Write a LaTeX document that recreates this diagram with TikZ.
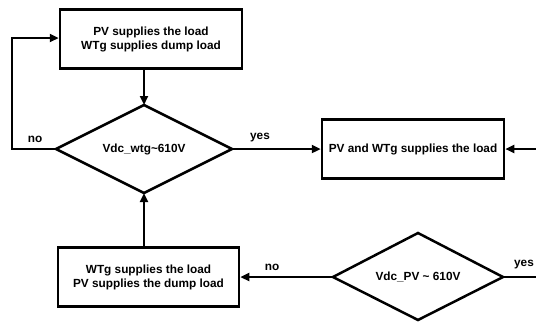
\documentclass[tikz,border=0pt]{standalone}
\usepackage{fontspec}
\setmainfont{Liberation Sans}
\usetikzlibrary{shapes.geometric,arrows.meta}
\begin{document}
\begin{tikzpicture}[x=1pt,y=-1pt,
  box/.style={draw,line width=2.5pt,minimum width=#1,minimum height=59pt,align=center,font=\bfseries\fontsize{11.8}{14}\selectfont,inner sep=0pt},
  conn/.style={line width=2.5pt,-{Triangle[length=9pt,width=8pt]}},
  lab/.style={font=\bfseries\fontsize{11.8}{14}\selectfont,inner sep=0pt}]
\useasboundingbox (0,0) rectangle (536,322);
\node[box=182pt] (b1) at (151,39) {PV supplies the load\\WTg supplies dump load};
\node[box=182pt] (b2) at (413,149) {PV and WTg supplies the load};
\node[box=181pt] (b3) at (148.5,277) {WTg supplies the load\\PV supplies the dump load};
\path[draw,line width=2.5pt,line join=miter] (144,105) coordinate (d1t) -- (232,149) coordinate (d1r) -- (144,193) coordinate (d1b) -- (56,149) coordinate (d1l) -- cycle;
\node[lab] (d1) at (144,149) {Vdc\_wtg\textasciitilde610V};
\path[draw,line width=2.5pt,line join=miter] (418,233) coordinate (d2t) -- (503,277) coordinate (d2r) -- (418,320) coordinate (d2b) -- (333,277) coordinate (d2l) -- cycle;
\node[lab] (d2) at (418,277) {Vdc\_PV \textasciitilde{} 610V};
\draw[conn] (b1.south -| d1t) -- (d1t);
\draw[conn] (b3.north -| d1b) -- (d1b);
\coordinate (c1) at (12,149);
\coordinate (c2) at (12,38);
\draw[conn,line join=miter] (d1l) -- (c1) -- (c2) -- (b1.west |- c2);
\draw[conn] (d1r) -- (b2.west);
\draw[conn] (d2l) -- (b3.east);
\coordinate (c3) at (545,277);
\coordinate (c4) at (545,149);
\draw[conn,line join=miter] (d2r) -- (c3) -- (c4) -- (b2.east);
\node[lab] (n1) at (35,139) {no};
\node[lab] (y1) at (260,138) {yes};
\node[lab] (n2) at (272,267) {no};
\node[lab] (y2) at (524,265) {yes};
\end{tikzpicture}
\end{document}
